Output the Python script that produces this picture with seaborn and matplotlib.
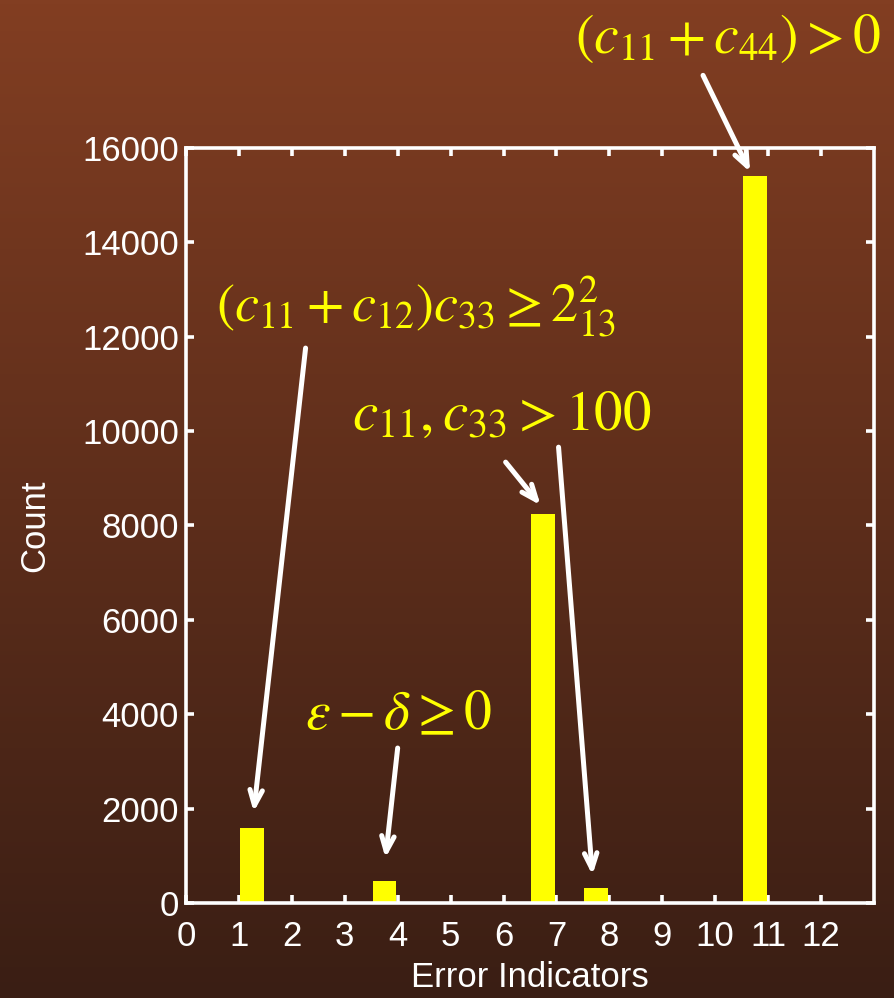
import numpy as np
import pandas as pd
import matplotlib
matplotlib.use('Agg')
import matplotlib.pyplot as plt
import seaborn as sns

# bar data
bin_centers = [1.25, 3.75, 6.75, 7.75, 10.75]
counts = [1580, 460, 8250, 320, 15400]
x_ticks = list(range(0, 13))
y_ticks = list(range(0, 16001, 2000))

# annotation labels (math text)
labels = [r'$(c_{11}+c_{44})>0$', r'$(c_{11}+c_{12})c_{33}\geq 2_{13}^{2}$',
          r'$c_{11},c_{33}>100$', r'$\varepsilon-\delta\geq 0$']

sns.set_style('ticks')
plt.rcParams['font.family'] = ['Liberation Sans', 'DejaVu Sans']
plt.rcParams['mathtext.fontset'] = 'stix'

fig = plt.figure(figsize=(8.95, 9.98), dpi=100)

# brown gradient background
bg = fig.add_axes([0, 0, 1, 1], zorder=0)
top = np.array([130, 62, 34]) / 255
bot = np.array([58, 30, 20]) / 255
t = np.linspace(0, 1, 256)[:, None]
grad = top[None, :] * (1 - t) + bot[None, :] * t
bg.imshow(grad[:, None, :], aspect='auto', extent=[0, 1, 0, 1])
bg.axis('off')

ax = fig.add_axes([0.2078, 0.0952, 0.7687, 0.7565], zorder=1)
ax.set_facecolor('none')

df = pd.DataFrame({'bin': bin_centers, 'count': counts})
sns.barplot(data=df, x='bin', y='count', native_scale=True, width=0.45,
            color='#FFFF00', saturation=1, ax=ax, errorbar=None, linewidth=0)
ax.axhline(0, xmin=0.07, xmax=0.9, color='#FFFF00', lw=1.2, zorder=1)

ax.set_xlim(0, 13)
ax.set_ylim(0, 16000)
ax.set_xticks(x_ticks)
ax.set_yticks(y_ticks)
ax.set_xticklabels([str(v) for v in x_ticks])
ax.set_yticklabels([str(v) for v in y_ticks])
for s in ax.spines.values():
    s.set_visible(True)
    s.set_color('white')
    s.set_linewidth(2.6)
ax.tick_params(direction='in', length=6, width=2.6, colors='white',
               labelsize=25, top=True, right=True)
ax.tick_params(axis='x', pad=12)
ax.tick_params(axis='y', pad=5)
ax.set_xlabel('Error Indicators', color='white', fontsize=25, labelpad=6)
ax.set_ylabel('Count', color='white', fontsize=25, labelpad=22)

arrow_kw = dict(arrowstyle='->,head_length=1.1,head_width=0.45', color='white',
                lw=3.6, shrinkA=0, shrinkB=0)

ax.text(10.23, 18330, labels[0], fontsize=40, color='#FFFF00', ha='center', va='center', clip_on=False)
ax.annotate('', xy=(10.66, 15490), xytext=(9.77, 17540), arrowprops=arrow_kw, annotation_clip=False)

ax.text(4.34, 12650, labels[1], fontsize=39, color='#FFFF00', ha='center', va='center')
ax.annotate('', xy=(1.28, 1930), xytext=(2.26, 11760), arrowprops=arrow_kw)

ax.text(5.96, 10350, labels[2], fontsize=41, color='#FFFF00', ha='center', va='center')
ax.annotate('', xy=(6.70, 8430), xytext=(6.04, 9343), arrowprops=arrow_kw)
ax.annotate('', xy=(7.68, 593), xytext=(7.04, 9660), arrowprops=arrow_kw)

ax.text(4.02, 3980, labels[3], fontsize=40, color='#FFFF00', ha='center', va='center')
ax.annotate('', xy=(3.77, 953), xytext=(4.0, 3284), arrowprops=arrow_kw)

fig.savefig('out.png', dpi=100)
plt.close(fig)
